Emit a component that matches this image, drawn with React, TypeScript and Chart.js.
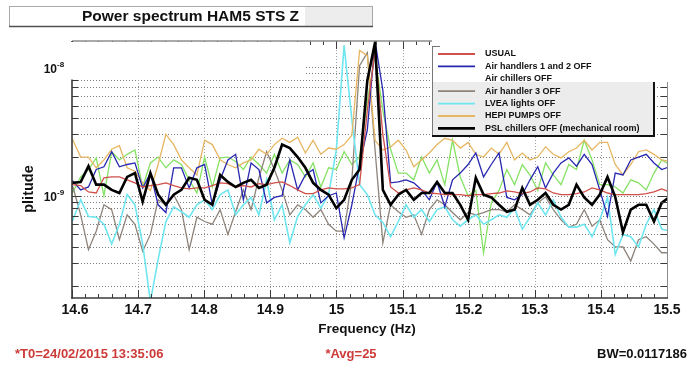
import { useEffect, useRef } from "react";
import { Chart, registerables } from "chart.js";

Chart.register(...registerables);

// Frequency bins (Hz), spaced by the resolution bandwidth
const FREQ_HZ = [
  14.5897, 14.6014, 14.6131, 14.6249, 14.6366, 14.6483, 14.66, 14.6717, 14.6834, 14.6952,
  14.7069, 14.7186, 14.7303, 14.742, 14.7538, 14.7655, 14.7772, 14.7889, 14.8006, 14.8123,
  14.8241, 14.8358, 14.8475, 14.8592, 14.8709, 14.8827, 14.8944, 14.9061, 14.9178, 14.9295,
  14.9413, 14.953, 14.9647, 14.9764, 14.9881, 14.9998, 15.0116, 15.0233, 15.035, 15.0467,
  15.0584, 15.0702, 15.0819, 15.0936, 15.1053, 15.117, 15.1288, 15.1405, 15.1522, 15.1639,
  15.1756, 15.1873, 15.1991, 15.2108, 15.2225, 15.2342, 15.2459, 15.2577, 15.2694, 15.2811,
  15.2928, 15.3045, 15.3163, 15.328, 15.3397, 15.3514, 15.3631, 15.3748, 15.3866, 15.3983,
  15.41, 15.4217, 15.4334, 15.4452, 15.4569, 15.4686, 15.4803, 15.492, 15.5038,
];

// Amplitude spectra, in units of 1e-9
const USUAL = [
  1.26, 1.22, 1.2, 1.07, 1.05, 1.38, 1.4, 1.4, 1.33, 1.26,
  1.17, 1.2, 1.22, 1.26, 1.2, 1.15, 1.13, 1.15, 1.15, 1.2,
  1.26, 1.24, 1.17, 1.2, 1.17, 1.24, 1.22, 1.26, 1.28, 1.2,
  1.11, 1.04, 1.04, 1.11, 1.15, 1.13, 1.13, 1.15, 1.22, 4.6,
  13.5, 3.0, 1.17, 1.05, 1.11, 1.15, 1.11, 1.05, 1.04, 1.02,
  1.02, 1.02, 1.0, 1.02, 1.02, 1.04, 1.05, 1.09, 1.07, 1.04,
  1.07, 1.15, 1.13, 1.05, 1.02, 1.02, 1.04, 1.07, 1.15, 1.11,
  1.05, 1.02, 1.02, 1.02, 1.02, 1.04, 1.07, 1.13, 1.07,
];
const AIR_HANDLERS_1_2_OFF = [
  1.28, 1.3, 1.11, 1.17, 1.6, 1.68, 2.2, 1.68, 1.75, 1.8,
  1.15, 1.5, 0.85, 0.74, 1.65, 1.65, 1.15, 1.65, 1.75, 0.85,
  1.33, 1.9, 2.1, 0.93, 1.8, 1.6, 0.88, 0.97, 1.0, 1.9,
  1.11, 1.45, 1.6, 0.88, 1.0, 1.05, 0.47, 0.85, 1.75, 3.25,
  16.0, 6.6, 1.26, 1.28, 1.33, 1.26, 1.11, 0.93, 1.28, 0.82,
  1.33, 1.5, 1.75, 2.15, 1.4, 1.75, 2.15, 0.97, 0.93, 1.02,
  1.33, 1.68, 1.15, 1.5, 1.8, 1.97, 1.7, 2.1, 1.75, 1.11,
  0.69, 1.5, 1.45, 1.9, 2.0, 2.1, 1.8, 1.6, 1.68,
];
const AIR_CHILLERS_OFF = [
  1.1, 1.07, 1.4, 1.6, 1.97, 1.0, 2.2, 1.9, 2.1, 2.27,
  1.17, 1.8, 2.0, 1.65, 1.9, 1.75, 1.33, 1.05, 2.0, 1.17,
  1.97, 2.0, 1.85, 1.6, 2.0, 1.75, 1.5, 2.1, 1.5, 1.9,
  1.75, 1.4, 1.8, 1.17, 1.65, 1.6, 2.2, 1.75, 2.0, 5.5,
  12.3, 4.6, 2.3, 1.5, 1.5, 1.33, 2.0, 1.5, 1.9, 1.22,
  2.7, 1.4, 1.0, 1.1, 0.36, 0.88, 1.1, 1.6, 1.22, 1.75,
  1.45, 1.1, 1.8, 1.45, 1.22, 1.75, 1.6, 2.7, 1.9, 1.22,
  1.22, 1.17, 1.05, 1.33, 1.26, 1.11, 1.5, 1.9, 1.75,
];
const AIR_HANDLER_3_OFF = [
  1.33, 1.17, 0.71, 0.38, 0.53, 0.85, 0.78, 0.455, 0.71, 0.6,
  0.37, 0.5, 0.93, 0.85, 1.02, 0.78, 0.38, 0.68, 0.63, 0.6,
  0.78, 0.5, 0.75, 1.11, 0.78, 1.38, 2.2, 1.6, 1.11, 0.71,
  0.85, 0.78, 0.68, 0.78, 0.6, 0.53, 0.53, 1.33, 10.3, 13.0,
  2.27, 0.43, 0.85, 0.75, 0.68, 0.71, 0.5, 0.78, 0.93, 0.85,
  0.74, 0.65, 0.74, 0.71, 0.74, 0.78, 0.78, 0.75, 0.85, 0.78,
  0.71, 0.88, 0.98, 0.78, 0.65, 0.57, 0.6, 0.78, 0.58, 0.65,
  0.455, 0.4, 0.4, 0.31, 0.455, 0.48, 0.42, 0.36, 0.36,
];
const LVEA_LIGHTS_OFF = [
  0.5, 0.65, 0.93, 0.69, 0.68, 0.6, 0.42, 0.6, 1.02, 0.85,
  0.42, 0.15, 0.32, 0.63, 0.82, 0.75, 0.68, 0.85, 0.93, 0.78,
  1.02, 1.11, 0.71, 0.85, 0.97, 0.71, 1.33, 0.65, 0.85, 0.43,
  0.69, 0.85, 1.02, 0.8, 1.02, 2.27, 14.8, 3.9, 1.22, 1.02,
  0.71, 0.62, 0.48, 0.63, 0.85, 0.68, 0.78, 0.63, 0.78, 0.82,
  0.65, 0.58, 0.65, 0.71, 0.6, 0.65, 0.71, 0.68, 0.8, 0.55,
  0.68, 0.88, 0.71, 0.93, 0.68, 0.57, 0.57, 0.6, 0.48, 0.65,
  0.97, 0.35, 0.5, 0.48, 0.4, 0.6, 0.78, 0.55, 0.53,
];
const HEPI_PUMPS_OFF = [
  2.9, 2.7, 2.0, 2.0, 1.65, 1.9, 2.3, 2.45, 1.65, 1.55,
  1.26, 1.1, 1.75, 3.0, 2.5, 1.9, 1.65, 1.45, 2.7, 2.5,
  1.9, 1.75, 1.65, 1.8, 1.9, 2.3, 2.1, 2.5, 2.8, 2.6,
  2.85, 2.15, 2.7, 2.1, 2.35, 2.3, 2.5, 2.96, 13.5, 12.3,
  2.7, 2.27, 2.4, 2.7, 2.27, 1.68, 1.9, 2.15, 2.5, 2.8,
  2.7, 2.35, 2.6, 2.1, 2.0, 2.35, 2.1, 2.6, 1.9, 2.15,
  1.9, 2.0, 2.4, 2.1, 1.97, 2.2, 2.35, 2.7, 2.27, 2.6,
  2.6, 1.75, 1.45, 1.75, 2.2, 2.27, 2.1, 1.9, 1.85,
];
const PSL_CHILLERS_OFF = [
  1.22, 1.26, 1.28, 1.7, 1.22, 1.22, 1.11, 1.05, 1.4, 1.5,
  0.9, 1.5, 1.02, 0.85, 1.02, 1.11, 1.38, 1.33, 0.93, 0.85,
  1.45, 1.28, 1.17, 1.26, 1.33, 1.15, 1.22, 1.65, 2.5, 2.35,
  2.0, 1.65, 1.26, 1.11, 1.02, 0.8, 0.93, 1.33, 1.6, 7.9,
  15.6, 1.11, 0.85, 1.02, 1.11, 0.93, 1.05, 1.05, 1.28, 1.05,
  1.05, 0.85, 0.65, 1.38, 1.02, 0.97, 0.85, 0.75, 0.78, 1.15,
  0.85, 0.93, 1.05, 0.85, 0.78, 0.85, 1.22, 0.97, 0.85, 1.02,
  1.4, 0.98, 0.52, 0.78, 0.85, 0.85, 0.63, 0.88, 0.98,
];

const UNIT = 1e-9;
const X_MIN = 14.6;
const X_MAX = 15.5;
const Y_MIN = 1.6e-10;
const Y_MAX = 1.6e-8;
const X_TICKS = [14.6, 14.7, 14.8, 14.9, 15, 15.1, 15.2, 15.3, 15.4, 15.5];
const X_MINOR_STEP = 0.02;
const Y_DECADES = [-10, -9, -8];
const Y_LABEL_EXPONENTS = [-8, -9];

const TITLE = "Power spectrum HAM5 STS Z";
const X_TITLE = "Frequency (Hz)";
const Y_TITLE = "plitude";
const FOOT_LEFT = "*T0=24/02/2015 13:35:06";
const FOOT_MID = "*Avg=25";
const FOOT_RIGHT = "BW=0.0117186";

type Series = {
  label: string;
  values: number[];
  color: string;
  width: number;
  swatch: boolean;
  order: number;
};

const SERIES: Series[] = [
  { label: "USUAL", values: USUAL, color: "#d0504a", width: 1.3, swatch: true, order: 1 },
  { label: "Air handlers 1 and 2 OFF", values: AIR_HANDLERS_1_2_OFF, color: "#2626b0", width: 1.3, swatch: true, order: 2 },
  { label: "Air chillers OFF", values: AIR_CHILLERS_OFF, color: "#86e264", width: 1.3, swatch: false, order: 6 },
  { label: "Air handler 3 OFF", values: AIR_HANDLER_3_OFF, color: "#8d837a", width: 1.3, swatch: true, order: 5 },
  { label: "LVEA lights OFF", values: LVEA_LIGHTS_OFF, color: "#6fe6f0", width: 1.6, swatch: true, order: 4 },
  { label: "HEPI PUMPS OFF", values: HEPI_PUMPS_OFF, color: "#e6b662", width: 1.3, swatch: true, order: 3 },
  { label: "PSL chillers OFF (mechanical room)", values: PSL_CHILLERS_OFF, color: "#000000", width: 2.6, swatch: true, order: 0 },
];

const FONT = '"Liberation Sans", Arial, Helvetica, sans-serif';

function line(ctx: CanvasRenderingContext2D, x1: number, y1: number, x2: number, y2: number) {
  ctx.beginPath();
  ctx.moveTo(x1, y1);
  ctx.lineTo(x2, y2);
  ctx.stroke();
}

function text(
  ctx: CanvasRenderingContext2D,
  s: string,
  x: number,
  y: number,
  font: string,
  color: string,
  align: CanvasTextAlign = "left",
) {
  ctx.font = font;
  ctx.fillStyle = color;
  ctx.textAlign = align;
  ctx.textBaseline = "middle";
  ctx.fillText(s, x, y);
}

function logGridValues(): number[] {
  const out: number[] = [];
  for (const e of Y_DECADES) {
    for (let m = 1; m <= 9; m++) {
      const v = m * Math.pow(10, e);
      if (v >= Y_MIN && v <= Y_MAX) out.push(v);
    }
  }
  return out;
}

const decorations = {
  id: "decorations",
  beforeDatasetsDraw(chart: any) {
    const { ctx, chartArea: a } = chart;
    const xs = chart.scales.x;
    const ys = chart.scales.y;
    ctx.save();
    ctx.lineWidth = 1;
    ctx.setLineDash([1, 2]);
    ctx.strokeStyle = "#7c7c7c";
    for (const v of logGridValues()) {
      const py = Math.round(ys.getPixelForValue(v)) + 0.5;
      line(ctx, a.left, py, a.right, py);
    }
    ctx.strokeStyle = "#a0a0a0";
    for (const t of X_TICKS) {
      if (t <= X_MIN || t >= X_MAX) continue;
      const px = Math.round(xs.getPixelForValue(t)) + 0.5;
      line(ctx, px, a.top, px, a.bottom);
    }
    ctx.restore();
  },
  afterDatasetsDraw(chart: any) {
    const { ctx, chartArea: a } = chart;
    const xs = chart.scales.x;
    const ys = chart.scales.y;
    ctx.save();
    ctx.setLineDash([]);
    // tick marks pointing into the plot
    ctx.strokeStyle = "#3a3a3a";
    ctx.lineWidth = 1;
    const nMinor = Math.round((X_MAX - X_MIN) / X_MINOR_STEP);
    for (let k = 0; k <= nMinor; k++) {
      const px = Math.round(xs.getPixelForValue(X_MIN + k * X_MINOR_STEP)) + 0.5;
      const len = k % 5 === 0 ? 8 : 4;
      line(ctx, px, a.bottom, px, a.bottom - len);
      line(ctx, px, a.top, px, a.top + len);
    }
    for (const v of logGridValues()) {
      const py = Math.round(ys.getPixelForValue(v)) + 0.5;
      const mant = Math.round(v / Math.pow(10, Math.floor(Math.log10(v) + 1e-9)));
      const len = mant === 1 ? 9 : 6;
      line(ctx, a.left, py, a.left + len, py);
      line(ctx, a.right, py, a.right - len, py);
    }
    // frame
    ctx.lineWidth = 1.6;
    ctx.strokeStyle = "#8c8c8c";
    line(ctx, a.left, a.top, a.right, a.top);
    ctx.lineWidth = 1;
    line(ctx, a.right + 0.5, a.top, a.right + 0.5, a.bottom);
    ctx.lineWidth = 1.6;
    ctx.strokeStyle = "#3a3a3a";
    line(ctx, a.left, a.top, a.left, a.bottom + 0.8);
    line(ctx, a.left - 0.8, a.bottom, a.right + 1, a.bottom);
    ctx.restore();
  },
  afterDraw(chart: any) {
    const { ctx, chartArea: a } = chart;
    const xs = chart.scales.x;
    const ys = chart.scales.y;
    ctx.save();
    ctx.setLineDash([]);

    // blank panels around the title and legend
    ctx.fillStyle = "#ffffff";
    ctx.fillRect(0, a.top + 1, 305, 37.5);
    ctx.fillRect(432, 27, 257, 55);

    // title box
    ctx.fillStyle = "#ffffff";
    ctx.fillRect(9, 6, 296, 20);
    ctx.fillStyle = "#ededed";
    ctx.fillRect(305, 6, 67, 20);
    ctx.strokeStyle = "#a8a8a8";
    ctx.lineWidth = 1;
    ctx.strokeRect(9.5, 6.5, 363, 20);
    ctx.strokeStyle = "#505050";
    ctx.lineWidth = 1.5;
    line(ctx, 9, 26.5, 373, 26.5);
    text(ctx, TITLE, 82, 16.5, `bold 15.5px ${FONT}`, "#111111");

    // y axis labels
    for (const e of Y_LABEL_EXPONENTS) {
      const py = ys.getPixelForValue(Math.pow(10, e));
      text(ctx, "10", 57, py + 2, `bold 12px ${FONT}`, "#111111", "right");
      text(ctx, String(e), 57, py - 2.5, `bold 8px ${FONT}`, "#111111", "left");
    }
    ctx.save();
    ctx.translate(29, 189);
    ctx.rotate(-Math.PI / 2);
    text(ctx, Y_TITLE, 0, 0, `bold 14.5px ${FONT}`, "#111111", "center");
    ctx.restore();

    // x axis labels
    for (const t of X_TICKS) {
      const px = xs.getPixelForValue(t) + (t === X_MIN ? 3 : 0);
      text(ctx, String(t), px, 310, `bold 14px ${FONT}`, "#111111", "center");
    }
    text(ctx, X_TITLE, 367, 329.5, `bold 13.5px ${FONT}`, "#111111", "center");

    // footer
    text(ctx, FOOT_LEFT, 15, 354, `bold 13px ${FONT}`, "#cc3b38", "left");
    text(ctx, FOOT_MID, 351, 354, `bold 13px ${FONT}`, "#cc3b38", "center");
    text(ctx, FOOT_RIGHT, 687, 354, `bold 13px ${FONT}`, "#111111", "right");

    // legend
    const L = { left: 432, top: 46, right: 654, split: 82, bottom: 136 };
    ctx.fillStyle = "#ffffff";
    ctx.fillRect(L.left, L.top, L.right - L.left, L.split - L.top);
    ctx.fillStyle = "#ececec";
    ctx.fillRect(L.left, L.split, L.right - L.left, L.bottom - L.split);
    ctx.strokeStyle = "#777777";
    ctx.lineWidth = 1;
    line(ctx, L.left + 0.5, L.top, L.left + 0.5, L.bottom);
    line(ctx, L.left, L.top + 0.5, L.left + 8, L.top + 0.5);
    ctx.strokeStyle = "#111111";
    ctx.lineWidth = 2;
    line(ctx, L.right, L.split, L.right, L.bottom + 1);
    line(ctx, L.left, L.bottom, L.right + 1, L.bottom);

    SERIES.forEach((s, i) => {
      const ry = 54 + i * 12.4;
      if (s.swatch) {
        ctx.strokeStyle = s.color;
        ctx.lineWidth = s.width >= 2 ? 2.6 : 1.8;
        line(ctx, 438, ry, 475, ry);
      }
      text(ctx, s.label, 485, ry, `bold 9px ${FONT}`, "#111111", "left");
    });

    ctx.restore();
  },
};

export default function App() {
  const canvasRef = useRef<HTMLCanvasElement | null>(null);

  useEffect(() => {
    const canvas = canvasRef.current;
    if (!canvas) return;
    const chart = new Chart(canvas, {
      type: "line",
      data: {
        datasets: SERIES.map((s) => ({
          label: s.label,
          data: s.values.map((v, i) => ({ x: FREQ_HZ[i], y: v * UNIT })),
          borderColor: s.color,
          backgroundColor: s.color,
          borderWidth: s.width,
          pointRadius: 0,
          tension: 0,
          fill: false,
          order: s.order,
        })),
      },
      options: {
        responsive: false,
        animation: false,
        devicePixelRatio: 1,
        layout: { padding: { left: 72, right: 22, top: 41, bottom: 69 } },
        scales: {
          x: { type: "linear", min: X_MIN, max: X_MAX, display: false },
          y: { type: "logarithmic", min: Y_MIN, max: Y_MAX, display: false },
        },
        plugins: {
          legend: { display: false },
          tooltip: { enabled: false },
          title: { display: false },
        },
      },
      plugins: [decorations],
    });
    return () => chart.destroy();
  }, []);

  return (
    <div style={{ position: "fixed", left: 0, top: 0, width: 689, height: 367, background: "#ffffff" }}>
      <canvas ref={canvasRef} width={689} height={367} style={{ width: 689, height: 367, display: "block" }} />
    </div>
  );
}
